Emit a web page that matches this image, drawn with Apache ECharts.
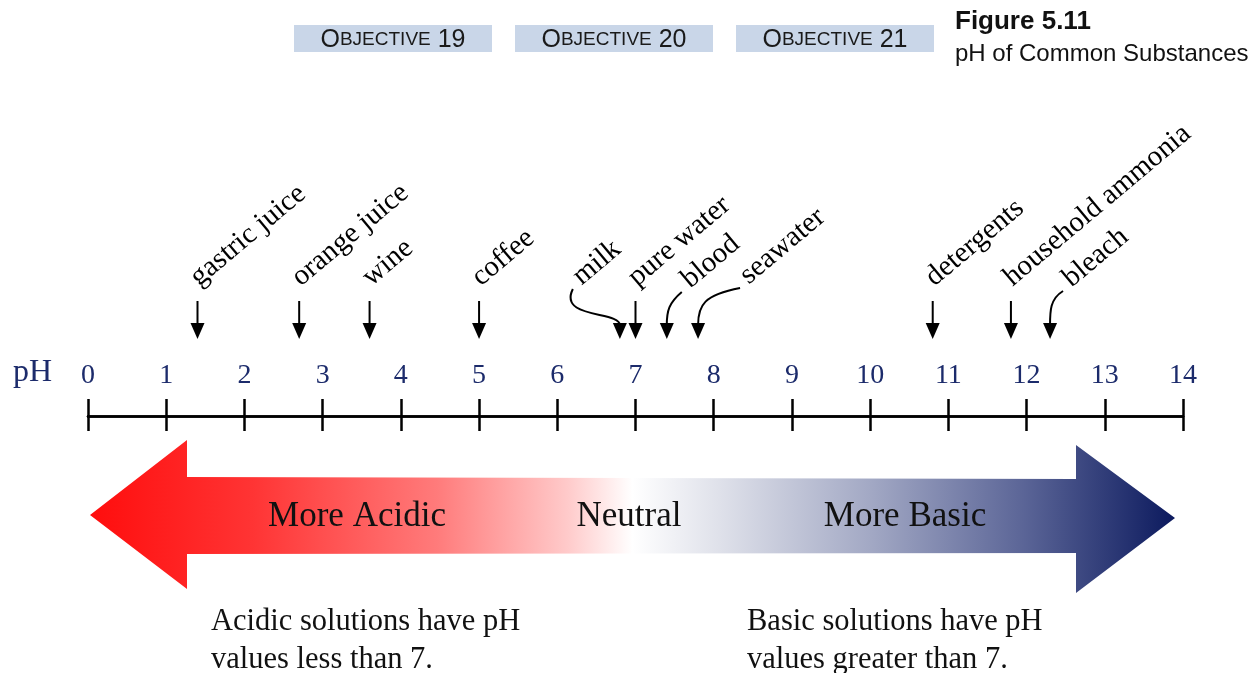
<!DOCTYPE html>
<html>
<head>
<meta charset="utf-8">
<title>pH of Common Substances</title>
<script src="https://cdn.jsdelivr.net/npm/echarts@6/dist/echarts.min.js"></script>
<style>
  html, body { margin: 0; padding: 0; background: #fff; }
  #main { width: 1251px; height: 673px; }
</style>
</head>
<body>
<div id="main"></div>
<script>
// pH scale tick labels
var tickLabels = ['0', '1', '2', '3', '4', '5', '6', '7', '8', '9', '10', '11', '12', '13', '14'];

// common substances and their pH
var substances = ['gastric juice', 'orange juice', 'wine', 'coffee', 'milk', 'pure water',
  'blood', 'seawater', 'detergents', 'household ammonia', 'bleach'];
var substancePH = [1.4, 2.7, 3.6, 5.0, 6.8, 7.0, 7.4, 7.8, 10.8, 11.8, 12.3];

var objectives = ['19', '20', '21'];

var NAVY = '#1c2b6b';
var SERIF = '"Liberation Serif", "DejaVu Serif", serif';
var SANS = '"Liberation Sans", Arial, sans-serif';

// curved pointers: start x/y, control point 1, control point 2 (relative to arrow tip)
var curved = {
  'milk': [-47, -50, -62, -20, 0, -28],
  'blood': [15, -47, 2, -36, 0, -28],
  'seawater': [42, -51, 6, -44, 0, -34],
  'bleach': [13, -48, 0, -40, 0, -28]
};

var myChart = echarts.init(document.getElementById('main'));

function renderPointer(params, api) {
  var name = substances[params.dataIndex];
  var p = api.coord([api.value(0), 0]);
  var x = p[0];
  var tip = p[1] - 77;
  var children = [];
  var c = curved[name];
  var tx, ty;
  if (c) {
    children.push({
      type: 'bezierCurve',
      shape: {
        x1: x + c[0], y1: tip + c[1],
        cpx1: x + c[2], cpy1: tip + c[3],
        cpx2: x + c[4], cpy2: tip + c[5],
        x2: x, y2: tip - 14
      },
      style: { stroke: '#000', lineWidth: 2, fill: 'none' }
    });
    tx = x + c[0] + 13;
    ty = tip + c[1] + 2;
  } else {
    children.push({
      type: 'line',
      shape: { x1: x, y1: tip - 38, x2: x, y2: tip - 14 },
      style: { stroke: '#000', lineWidth: 2 }
    });
    tx = x + 6;
    ty = tip - 47;
  }
  children.push({
    type: 'polygon',
    shape: { points: [[x - 7, tip - 16], [x + 7, tip - 16], [x, tip]] },
    style: { fill: '#000' }
  });
  children.push({
    type: 'text',
    x: tx,
    y: ty,
    rotation: 40 * Math.PI / 180,
    style: {
      text: name, x: 0, y: 0,
      fill: '#000', fontSize: 29, fontFamily: SERIF,
      align: 'left', verticalAlign: 'bottom'
    }
  });
  return { type: 'group', children: children };
}

// header boxes
var graphics = [];
objectives.forEach(function (num, i) {
  var left = 294 + i * 221;
  graphics.push({
    type: 'rect',
    shape: { x: left, y: 25, width: 198, height: 27 },
    style: { fill: '#c9d6e8' }
  });
  graphics.push({
    type: 'text',
    x: left + 99, y: 40,
    style: {
      text: '{a|O}{b|BJECTIVE}{a| ' + num + '}',
      align: 'center', verticalAlign: 'middle',
      rich: {
        a: { fontSize: 25, fontFamily: SANS, fill: '#1a1a1a' },
        b: { fontSize: 19, fontFamily: SANS, fill: '#1a1a1a' }
      }
    }
  });
});

graphics.push(
  {
    type: 'text', x: 955, y: 22,
    style: { text: 'Figure 5.11', fontSize: 26, fontWeight: 'bold', fontFamily: SANS, fill: '#111', verticalAlign: 'middle' }
  },
  {
    type: 'text', x: 955, y: 54,
    style: { text: 'pH of Common Substances', fontSize: 24, fontFamily: SANS, fill: '#111', verticalAlign: 'middle' }
  },
  {
    type: 'text', x: 13, y: 373,
    style: { text: 'pH', fontSize: 32, fontFamily: SERIF, fill: NAVY, verticalAlign: 'middle' }
  },
  // the big double arrow
  {
    type: 'polygon',
    shape: {
      points: [[90, 515], [187, 440], [187, 477], [1076, 479], [1076, 445], [1175, 518],
        [1076, 593], [1076, 553], [187, 554], [187, 589]]
    },
    style: {
      fill: {
        type: 'linear', x: 0, y: 0, x2: 1, y2: 0,
        colorStops: [
          { offset: 0, color: '#ff0d0d' },
          { offset: 0.15, color: '#ff3434' },
          { offset: 0.32, color: '#ff7b7b' },
          { offset: 0.44, color: '#ffcaca' },
          { offset: 0.5, color: '#ffffff' },
          { offset: 0.58, color: '#dfe1ea' },
          { offset: 0.72, color: '#a2a8c4' },
          { offset: 0.86, color: '#5b6597' },
          { offset: 1, color: '#0c1a5e' }
        ]
      }
    }
  },
  {
    type: 'text', x: 357, y: 517,
    style: { text: 'More Acidic', fontSize: 35, fontFamily: SERIF, fill: '#111', align: 'center', verticalAlign: 'middle' }
  },
  {
    type: 'text', x: 629, y: 517,
    style: { text: 'Neutral', fontSize: 35, fontFamily: SERIF, fill: '#111', align: 'center', verticalAlign: 'middle' }
  },
  {
    type: 'text', x: 905, y: 517,
    style: { text: 'More Basic', fontSize: 35, fontFamily: SERIF, fill: '#111', align: 'center', verticalAlign: 'middle' }
  },
  {
    type: 'text', x: 211, y: 603,
    style: { text: 'Acidic solutions have pH\nvalues less than 7.', fontSize: 30.5, lineHeight: 38, fontFamily: SERIF, fill: '#111' }
  },
  {
    type: 'text', x: 747, y: 603,
    style: { text: 'Basic solutions have pH\nvalues greater than 7.', fontSize: 30.5, lineHeight: 38, fontFamily: SERIF, fill: '#111' }
  }
);

var option = {
  animation: false,
  backgroundColor: '#fff',
  grid: [
    { left: 88, right: 68, top: 100, height: 316 },
    { left: 88, right: 68, top: 416, height: 40 }
  ],
  xAxis: [
    {
      gridIndex: 0, type: 'value', position: 'bottom', min: 0, max: 14, interval: 1,
      axisLine: { onZero: false, lineStyle: { color: '#000', width: 2.5 } },
      axisTick: { inside: true, length: 17, lineStyle: { color: '#000', width: 2.5 } },
      axisLabel: {
        inside: true, margin: 26, fontSize: 28, fontFamily: SERIF, color: NAVY,
        formatter: function (v) { return tickLabels[v]; }
      },
      splitLine: { show: false }
    },
    {
      gridIndex: 1, type: 'value', position: 'top', min: 0, max: 14, interval: 1,
      axisLine: { onZero: false, lineStyle: { color: '#000', width: 2.5 } },
      axisTick: { inside: true, length: 15, lineStyle: { color: '#000', width: 2.5 } },
      axisLabel: { show: false },
      splitLine: { show: false }
    }
  ],
  yAxis: [
    { gridIndex: 0, type: 'value', min: 0, max: 1, show: false },
    { gridIndex: 1, type: 'value', min: 0, max: 1, show: false }
  ],
  series: [{
    type: 'custom',
    xAxisIndex: 0,
    yAxisIndex: 0,
    clip: false,
    silent: true,
    renderItem: renderPointer,
    encode: { x: 0, y: 1 },
    data: substancePH.map(function (v) { return [v, 0]; })
  }],
  graphic: graphics
};

myChart.setOption(option);
</script>
</body>
</html>
